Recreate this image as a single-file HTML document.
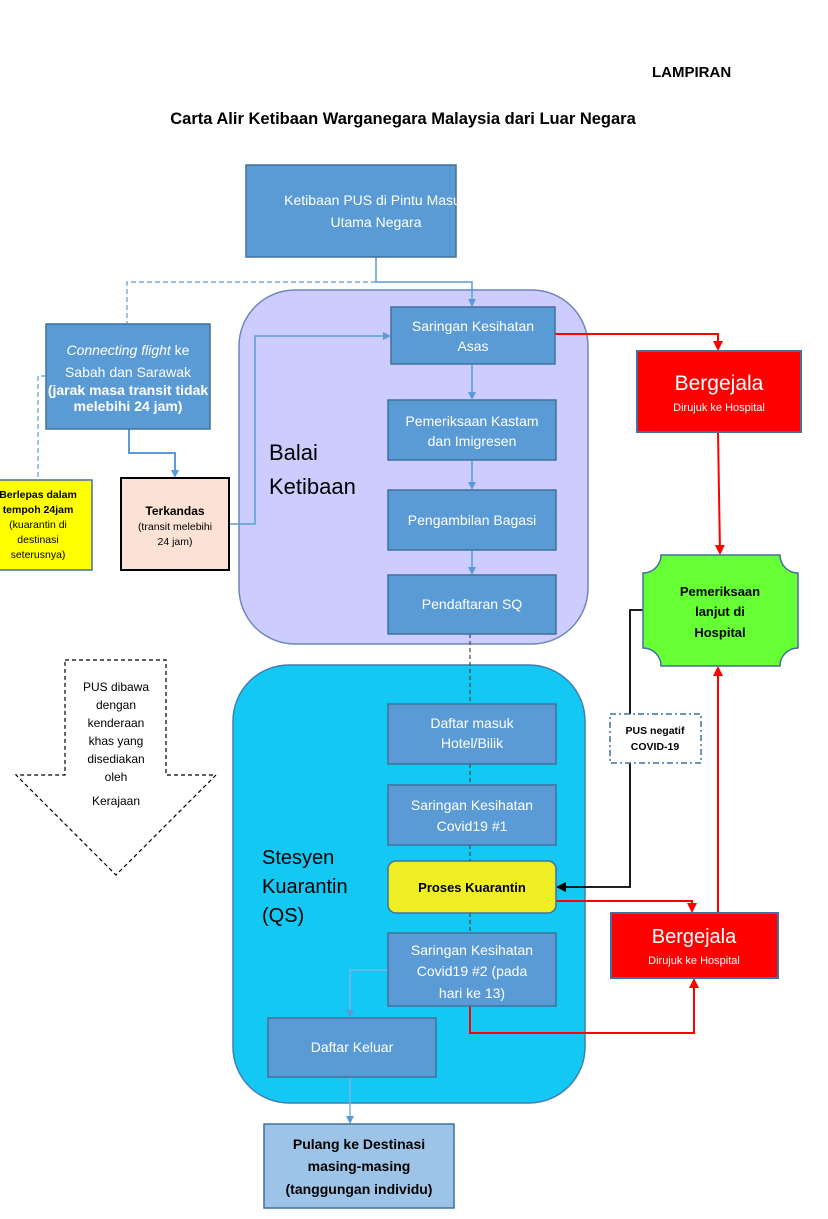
<!DOCTYPE html>
<html><head><meta charset="utf-8"><style>
html,body{margin:0;padding:0;background:#fff;}
svg{display:block;font-family:"Liberation Sans",sans-serif;}
.b{fill:#5b9bd5;stroke:#41719c;stroke-width:1.5}
.w{fill:#fff;font-size:14px;text-anchor:middle}
.k{fill:#000;text-anchor:middle}
</style></head><body>
<svg width="828" height="1219" viewBox="0 0 828 1219" xmlns="http://www.w3.org/2000/svg">
<defs>
<marker id="ab" markerWidth="8" markerHeight="8" refX="6" refY="4" orient="auto" markerUnits="userSpaceOnUse"><path d="M0,0 L8,4 L0,8 z" fill="#5b9bd5"/></marker>
<marker id="ar" markerWidth="10" markerHeight="10" refX="8" refY="5" orient="auto" markerUnits="userSpaceOnUse"><path d="M0,0 L10,5 L0,10 z" fill="#ff0000"/></marker>
<marker id="ak" markerWidth="10" markerHeight="10" refX="8" refY="5" orient="auto" markerUnits="userSpaceOnUse"><path d="M0,0 L10,5 L0,10 z" fill="#000"/></marker>
</defs>
<text x="652" y="77" font-size="15" font-weight="bold">LAMPIRAN</text>
<text x="403" y="124" font-size="16.5" font-weight="bold" text-anchor="middle">Carta Alir Ketibaan Warganegara Malaysia dari Luar Negara</text>

<!-- containers -->
<rect x="239" y="290" width="349" height="354" rx="56" fill="#ccccff" stroke="#6f87b6" stroke-width="1.5"/>
<rect x="233" y="665" width="352" height="438" rx="56" fill="#13c8f2" stroke="#3f7fb5" stroke-width="1.5"/>
<text x="269" y="460" font-size="22">Balai</text>
<text x="269" y="494" font-size="22">Ketibaan</text>
<text x="262" y="864" font-size="20">Stesyen</text>
<text x="262" y="893" font-size="20">Kuarantin</text>
<text x="262" y="922" font-size="20">(QS)</text>

<!-- connectors blue -->
<path d="M376,257 V282 H472 V305" fill="none" stroke="#5b9bd5" stroke-width="1.5" marker-end="url(#ab)"/>
<path d="M376,282 H127 V324" fill="none" stroke="#5b9bd5" stroke-width="1.2" stroke-dasharray="5,3"/>
<path d="M46,376 H38 V480" fill="none" stroke="#5b9bd5" stroke-width="1.2" stroke-dasharray="5,3"/>
<path d="M129,429 V453 H175 V476" fill="none" stroke="#5b9bd5" stroke-width="2" marker-end="url(#ab)"/>
<path d="M229,524 H255 V336 H389" fill="none" stroke="#5b9bd5" stroke-width="1.5" marker-end="url(#ab)"/>
<path d="M472,364 V398" stroke="#5b9bd5" stroke-width="1.5" marker-end="url(#ab)"/>
<path d="M472,460 V488" stroke="#5b9bd5" stroke-width="1.5" marker-end="url(#ab)"/>
<path d="M472,550 V573" stroke="#5b9bd5" stroke-width="1.5" marker-end="url(#ab)"/>
<path d="M470,634 V704 M470,764 V785 M470,845 V861 M470,913 V933" stroke="#444" stroke-width="1.2" stroke-dasharray="4,3"/>
<path d="M388,970 H350 V1016" fill="none" stroke="#7fb0e0" stroke-width="1.5" marker-end="url(#ab)"/>
<path d="M350,1077 V1122" fill="none" stroke="#7fb0e0" stroke-width="1.5" marker-end="url(#ab)"/>

<!-- red -->
<path d="M555,334 H718 V349" fill="none" stroke="#ff0000" stroke-width="2" marker-end="url(#ar)"/>
<path d="M718,432 L720,553" fill="none" stroke="#ff0000" stroke-width="2" marker-end="url(#ar)"/>
<path d="M556,901 H692 V911" fill="none" stroke="#ff0000" stroke-width="2" marker-end="url(#ar)"/>
<path d="M718,913 V668" fill="none" stroke="#ff0000" stroke-width="2" marker-end="url(#ar)"/>
<path d="M470,1006 V1033 H694 V980" fill="none" stroke="#ff0000" stroke-width="2" marker-end="url(#ar)"/>
<!-- black -->
<path d="M643,610 H630 V887 H558" fill="none" stroke="#000" stroke-width="1.8" marker-end="url(#ak)"/>

<!-- boxes -->
<rect class="b" x="246" y="165" width="210" height="92"/>
<text class="w" x="376" y="205">Ketibaan PUS di Pintu Masuk</text>
<text class="w" x="376" y="227">Utama Negara</text>

<rect class="b" x="46" y="324" width="164" height="105"/>
<text class="w" x="128" y="355"><tspan font-style="italic">Connecting flight</tspan> ke</text>
<text class="w" x="128" y="377">Sabah dan Sarawak</text>
<text class="w" x="128" y="395" font-size="10" font-weight="bold">(jarak masa transit tidak</text>
<text class="w" x="128" y="411" font-size="10" font-weight="bold">melebihi 24 jam)</text>

<rect x="-2" y="480" width="94" height="90" fill="#ffff00" stroke="#41719c" stroke-width="1.5"/>
<g class="k" font-size="10.5"><text x="38" y="498" font-weight="bold">Berlepas dalam</text><text x="38" y="513" font-weight="bold">tempoh 24jam</text><text x="38" y="528">(kuarantin di</text><text x="38" y="543">destinasi</text><text x="38" y="558">seterusnya)</text></g>

<rect x="121" y="478" width="108" height="92" fill="#fbe2d5" stroke="#000" stroke-width="2"/>
<text class="k" x="175" y="515" font-size="12" font-weight="bold">Terkandas</text>
<text class="k" x="175" y="530" font-size="10.5">(transit melebihi</text>
<text class="k" x="175" y="545" font-size="10.5">24 jam)</text>

<rect class="b" x="391" y="307" width="164" height="57"/>
<text class="w" x="473" y="331">Saringan Kesihatan</text><text class="w" x="473" y="351">Asas</text>
<rect class="b" x="388" y="400" width="168" height="60"/>
<text class="w" x="472" y="426">Pemeriksaan Kastam</text><text class="w" x="472" y="446">dan Imigresen</text>
<rect class="b" x="388" y="490" width="168" height="60"/>
<text class="w" x="472" y="525">Pengambilan Bagasi</text>
<rect class="b" x="388" y="575" width="168" height="59"/>
<text class="w" x="472" y="609">Pendaftaran SQ</text>

<rect x="637" y="351" width="164" height="81" fill="#ff0000" stroke="#41719c" stroke-width="2"/>
<text x="719" y="390" fill="#fff" font-size="21" text-anchor="middle">Bergejala</text>
<text x="719" y="411" fill="#fff" font-size="11" text-anchor="middle">Dirujuk ke Hospital</text>

<path d="M661,555 H780 A18,18 0 0 0 798,573 V648 A18,18 0 0 0 780,666 H661 A18,18 0 0 0 643,648 V573 A18,18 0 0 0 661,555 Z" fill="#66ff33" stroke="#41719c" stroke-width="1.5"/>
<g class="k" font-size="13" font-weight="bold"><text x="720" y="596">Pemeriksaan</text><text x="720" y="616">lanjut di</text><text x="720" y="637">Hospital</text></g>

<rect x="610" y="714" width="91" height="49" fill="#fff" stroke="#41719c" stroke-width="1.5" stroke-dasharray="6,3,2,3"/>
<text class="k" x="655" y="734" font-size="10.5" font-weight="bold">PUS negatif</text>
<text class="k" x="655" y="750" font-size="10.5" font-weight="bold">COVID-19</text>

<path d="M65,660 H166 V775 H216 L116,875 L16,775 H65 Z" fill="#fff" stroke="#000" stroke-width="1.2" stroke-dasharray="4,3"/>
<g class="k" font-size="12"><text x="116" y="691">PUS dibawa</text><text x="116" y="709">dengan</text><text x="116" y="727">kenderaan</text><text x="116" y="745">khas yang</text><text x="116" y="763">disediakan</text><text x="116" y="781">oleh</text><text x="116" y="805">Kerajaan</text></g>

<rect class="b" x="388" y="704" width="168" height="60"/>
<text class="w" x="472" y="728">Daftar masuk</text><text class="w" x="472" y="748">Hotel/Bilik</text>
<rect class="b" x="388" y="785" width="168" height="60"/>
<text class="w" x="472" y="810">Saringan Kesihatan</text><text class="w" x="472" y="831">Covid19  #1</text>
<rect x="388" y="861" width="168" height="52" rx="8" fill="#eeee22" stroke="#41719c" stroke-width="1.5"/>
<text class="k" x="472" y="892" font-size="13" font-weight="bold">Proses Kuarantin</text>
<rect class="b" x="388" y="933" width="168" height="73"/>
<text class="w" x="472" y="955">Saringan Kesihatan</text><text class="w" x="472" y="976">Covid19 #2 (pada</text><text class="w" x="472" y="998">hari ke 13)</text>
<rect class="b" x="268" y="1018" width="168" height="59"/>
<text class="w" x="352" y="1052">Daftar Keluar</text>

<rect x="264" y="1124" width="190" height="84" fill="#9dc3e6" stroke="#41719c" stroke-width="1.5"/>
<g class="k" font-size="14" font-weight="bold"><text x="359" y="1149">Pulang ke Destinasi</text><text x="359" y="1171">masing-masing</text><text x="359" y="1194">(tanggungan individu)</text></g>

<rect x="611" y="913" width="167" height="65" fill="#ff0000" stroke="#41719c" stroke-width="2"/>
<text x="694" y="943" fill="#fff" font-size="20" text-anchor="middle">Bergejala</text>
<text x="694" y="964" fill="#fff" font-size="11" text-anchor="middle">Dirujuk ke Hospital</text>
</svg>
</body></html>
